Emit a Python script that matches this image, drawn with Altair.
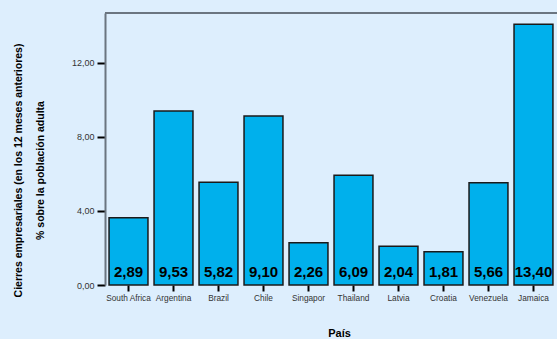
import altair as alt
import pandas as pd

paises = ["South Africa", "Argentina", "Brazil", "Chile", "Singapor",
          "Thailand", "Latvia", "Croatia", "Venezuela", "Jamaica"]
alturas = [3.64, 9.41, 5.55, 9.14, 2.29, 5.93, 2.09, 1.80, 5.53, 14.09]
etiquetas = ["2,89", "9,53", "5,82", "9,10", "2,26",
             "6,09", "2,04", "1,81", "5,66", "13,40"]
y_ticks = [0, 4, 8, 12]
y_title = ["Cierres empresariales (en los 12 meses anteriores)",
           "% sobre la población adulta"]
x_title = "País"

df = pd.DataFrame({"pais": paises, "valor": alturas, "etiqueta": etiquetas})

W, H = 452, 272

x = alt.X("pais:N", sort=paises,
          scale=alt.Scale(paddingInner=0.135, paddingOuter=0.09),
          axis=alt.Axis(title=x_title, labelAngle=0, domain=False,
                        tickColor="black", tickWidth=2, tickSize=6,
                        labelFont="Liberation Sans", labelFontSize=8.3,
                        labelColor="#333333", labelPadding=2,
                        titleFont="Liberation Sans", titleFontSize=11,
                        titleFontWeight="bold", titleColor="black",
                        titleX=234, titleY=42, titleBaseline="top",
                        titleAnchor="start", titleAlign="center"))

y = alt.Y("valor:Q",
          scale=alt.Scale(domain=[0, 14.7], nice=False, zero=True),
          axis=alt.Axis(values=y_ticks, grid=False,
                        labelExpr="replace(format(datum.value, '.2f'), '.', ',')",
                        domainColor="#6b7580", domainWidth=2,
                        tickColor="black", tickWidth=2, tickSize=8,
                        labelFont="Liberation Sans", labelFontSize=9,
                        labelColor="#333333", labelPadding=3,
                        title=y_title, titleFont="Liberation Sans",
                        titleFontSize=10.5, titleFontWeight="bold",
                        titleColor="black", titleLineHeight=22,
                        titleAngle=270, titleX=-86.5, titleY=157,
                        titleAlign="center", titleBaseline="middle",
                        titleAnchor="start"))

bars = alt.Chart(df).mark_bar(color="#00b0ec", stroke="#1a1a1a",
                              strokeWidth=1.5).encode(x=x, y=y)

labels = alt.Chart(df).mark_text(font="Liberation Sans", fontSize=15,
                                 fontWeight="bold", color="black",
                                 baseline="alphabetic").encode(
    x=alt.X("pais:N", sort=paises),
    y=alt.value(H - 8),
    text="etiqueta:N")

top_line = alt.Chart(df).mark_rule(color="#6b7580", strokeWidth=2).encode(
    x=alt.value(0), x2=alt.value(W), y=alt.value(0))

chart = alt.layer(bars, labels, top_line).properties(
    width=W, height=H,
    background="#ddeefd",
    padding={"left": 105, "top": 13, "right": 0, "bottom": 54},
    autosize=alt.AutoSizeParams(type="none"),
).configure_view(stroke=None)

chart.save("out.html", embed_options={"renderer": "svg", "actions": False})
